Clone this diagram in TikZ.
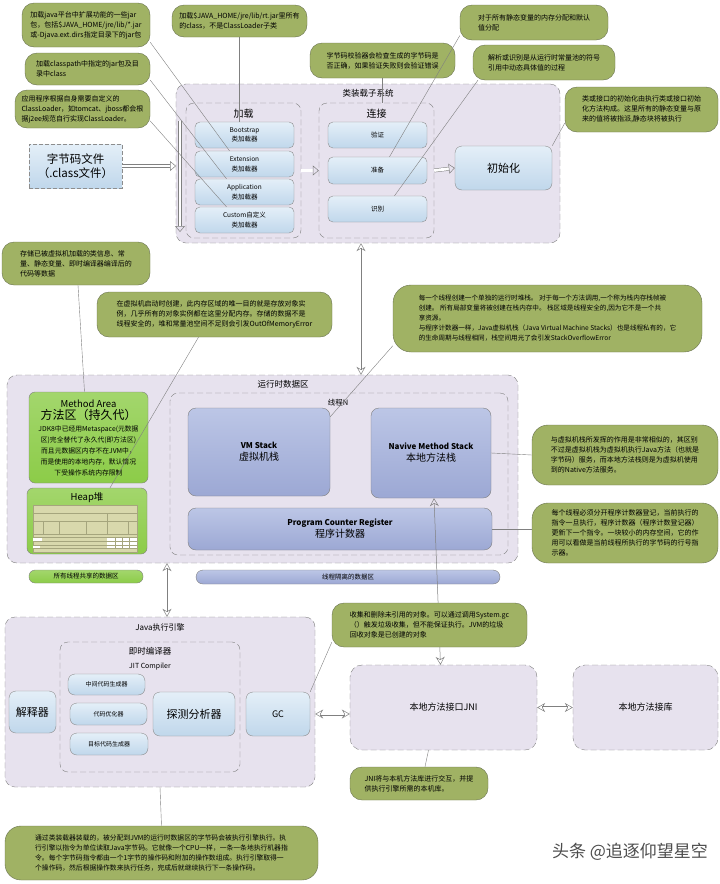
\documentclass[tikz,border=0pt]{standalone}
\usepackage{fontspec}
\setmainfont{Noto Sans CJK SC}
\usetikzlibrary{arrows.meta}
\definecolor{notegreen}{RGB}{160,178,100}
\definecolor{noteline}{RGB}{105,114,80}
\definecolor{lav}{RGB}{231,226,238}
\definecolor{edge}{RGB}{128,128,128}
\definecolor{boxtop}{RGB}{228,239,248}
\definecolor{boxbot}{RGB}{192,215,235}
\definecolor{areagreen}{RGB}{140,204,72}
\definecolor{peritop}{RGB}{188,198,230}
\definecolor{peribot}{RGB}{156,168,212}
\definecolor{heapfill}{RGB}{216,216,172}
\definecolor{heapline}{RGB}{165,165,125}

\begin{document}
\begin{tikzpicture}[x=1pt,y=-1pt,
	note/.style={draw=noteline,fill=notegreen,rounded corners=12pt,align=left,inner sep=0pt,font=\fontsize{7}{10}\selectfont},
	area/.style={draw=edge,fill=lav,dash pattern=on 6pt off 3pt,rounded corners=10pt},
	cell/.style={draw=edge!90,top color=boxtop,bottom color=boxbot,rounded corners=5pt,align=center,inner sep=0pt,font=\fontsize{6.5}{9.5}\selectfont},
	gbox/.style={draw=edge,top color=areagreen!80!white,bottom color=areagreen,rounded corners=6pt,align=center,inner sep=0pt},
	pbox/.style={draw=edge,top color=peritop,bottom color=peribot,rounded corners=8pt,align=center,inner sep=0pt},
	pointer/.style={draw=edge,line width=0.4pt},
	hollow/.style={draw=edge,double=white,double distance=2.8pt,line width=0.5pt,-{Triangle[open,length=6pt,width=10pt]}},
	biarrow/.style={draw=edge,line width=0.5pt,{Stealth[open,length=8pt,width=9pt]}-{Stealth[open,length=8pt,width=9pt]}}]
	\useasboundingbox (0,0) rectangle (720,884);

	% class loader subsystem
	\node[area,minimum width=384pt,minimum height=159pt] at (368,163.5) (loader) {};
	\node[font=\fontsize{8.5}{10}\selectfont] at (368,93) (loadertitle) {类装载子系统};
	\node[area,rounded corners=8pt,minimum width=115pt,minimum height=135pt] at (243.5,170.5) (loadbox) {};
	\node[font=\fontsize{10}{12}\selectfont] at (243.5,114) (loadtitle) {加载};
	\node[cell,minimum width=99pt,minimum height=26pt] at (244.5,135) (boot) {Bootstrap\\类加载器};
	\node[cell,minimum width=99pt,minimum height=26pt] at (244.5,164) (ext) {Extension\\类加载器};
	\node[cell,minimum width=99pt,minimum height=26pt] at (244.5,192) (appl) {Application\\类加载器};
	\node[cell,minimum width=99pt,minimum height=26pt] at (244.5,220) (cust) {Custom自定义\\类加载器};
	\node[area,rounded corners=8pt,minimum width=115pt,minimum height=135pt] at (376.5,170.5) (linkbox) {};
	\node[font=\fontsize{10}{12}\selectfont] at (376.5,114) (linktitle) {连接};
	\node[cell,minimum width=99pt,minimum height=26pt] at (377.5,135) (verify) {验证};
	\node[cell,minimum width=99pt,minimum height=27pt] at (377.5,170.5) (prep) {准备};
	\node[cell,minimum width=99pt,minimum height=26pt] at (377.5,209) (resolve) {识别};
	\node[cell,rounded corners=7pt,minimum width=97pt,minimum height=44pt,font=\fontsize{11}{13}\selectfont] at (503.5,168) (init) {初始化};
	\node[cell,rounded corners=0pt,dash pattern=on 4pt off 2pt,minimum width=93pt,minimum height=44pt,font=\fontsize{11.5}{14.5}\selectfont] at (75.5,166) (bytecode) {字节码文件\\（.class文件）};

	% runtime data area
	\node[area,minimum width=511pt,minimum height=188pt] at (262.5,469) (rt) {};
	\node[font=\fontsize{8.5}{10}\selectfont] at (283,384) (rttitle) {运行时数据区};
	\node[gbox,minimum width=119pt,minimum height=91pt,font=\fontsize{6.8}{11}\selectfont] at (88.5,437.5) (method) {{\fontsize{9.5}{12}\selectfont Method Area}\\[1pt]{\fontsize{12}{15}\selectfont 方法区（持久代）}\\[1pt]JDK8中已经用Metaspace(元数据\\区)完全替代了永久代(即方法区)\\而且元数据区内存不在JVM中，\\而是使用的本地内存，默认情况\\下受操作系统内存限制};
	\node[gbox,minimum width=120pt,minimum height=66pt] at (87,521) (heap) {};
	\node[font=\fontsize{9.5}{11}\selectfont] at (87,498) (heaptitle) {Heap堆};
	\fill[heapfill] (33,505) rectangle (137,552);
	\draw[heapline,line width=0.3pt] (33,505) rectangle (137,552)
		(33,513) -- (137,513) (33,521) -- (137,521) (33,534) -- (137,534)
		(107,513) -- (107,534) (43,521) -- (43,534) (59,521) -- (59,534)
		(86,521) -- (86,534) (128,521) -- (128,534);
	\fill[white] (107,537) rectangle (137,548);
	\fill[white] (33,537) rectangle (42,541);
	\fill[white] (33,545) rectangle (40,548);
	\draw[heapline,line width=0.3pt] (33,537) -- (137,537) (33,541) -- (137,541)
		(33,545) -- (137,545) (33,548) -- (137,548)
		(115,537) -- (115,548) (122,537) -- (122,548) (129,537) -- (129,548);
	\node[area,rounded corners=8pt,minimum width=338pt,minimum height=162pt] at (339,474) (thread) {};
	\node[font=\fontsize{7.5}{9}\selectfont] at (338,403) (threadtitle) {线程N};
	\node[pbox,minimum width=142pt,minimum height=88pt] at (259,452) (vmstack) {{\fontsize{8}{12}\selectfont\bfseries VM Stack}\\{\fontsize{10}{13}\selectfont 虚拟机栈}};
	\node[pbox,minimum width=120pt,minimum height=90pt] at (431,453) (native) {{\fontsize{8}{12}\selectfont\bfseries Navive Method Stack}\\{\fontsize{10}{13}\selectfont 本地方法栈}};
	\node[pbox,minimum width=304pt,minimum height=42pt] at (340,529) (pc) {{\fontsize{8}{12}\selectfont\bfseries Program Counter Register}\\{\fontsize{10}{13}\selectfont 程序计数器}};
	\node[gbox,rounded corners=6pt,minimum width=114pt,minimum height=13pt,font=\fontsize{6.5}{8}\selectfont] at (86,576.5) (shared) {所有线程共享的数据区};
	\node[pbox,rounded corners=7pt,minimum width=304pt,minimum height=14pt,font=\fontsize{6.5}{8}\selectfont] at (348,577) (isolated) {线程隔离的数据区};

	% execution engine
	\node[area,minimum width=310pt,minimum height=170pt] at (160,702) (eng) {};
	\node[font=\fontsize{8}{10}\selectfont] at (160,627) (engtitle) {Java执行引擎};
	\node[area,rounded corners=8pt,minimum width=180pt,minimum height=130pt] at (150,707) (jit) {};
	\node[align=center,font=\fontsize{8.5}{14}\selectfont] at (150,659) (jittitle) {即时编译器\\{\fontsize{7}{9}\selectfont JIT Compiler}};
	\node[cell,rounded corners=7pt,minimum width=77pt,minimum height=21pt,font=\fontsize{6}{8}\selectfont] at (106.5,684.5) (midcode) {中间代码生成器};
	\node[cell,rounded corners=7pt,minimum width=77pt,minimum height=22pt,font=\fontsize{6}{8}\selectfont] at (108.5,714) (optim) {代码优化器};
	\node[cell,rounded corners=7pt,minimum width=78pt,minimum height=22pt,font=\fontsize{6}{8}\selectfont] at (109,744) (target) {目标代码生成器};
	\node[cell,rounded corners=7pt,minimum width=82pt,minimum height=44pt,font=\fontsize{11}{13}\selectfont] at (194,714) (probe) {探测分析器};
	\node[cell,rounded corners=7pt,minimum width=47pt,minimum height=42pt,font=\fontsize{11}{13}\selectfont] at (32.5,712) (interp) {解释器};
	\node[cell,rounded corners=7pt,minimum width=64pt,minimum height=44pt,font=\fontsize{9}{11}\selectfont] at (278,714) (gc) {GC};
	\node[area,rounded corners=12pt,minimum width=187pt,minimum height=85pt,font=\fontsize{9}{11}\selectfont] at (443.5,707.5) (jni) {本地方法接口JNI};
	\node[area,rounded corners=12pt,minimum width=145pt,minimum height=85pt,font=\fontsize{9}{11}\selectfont] at (645.5,707.5) (lib) {本地方法接库};

	% arrows between the parts
	\coordinate (feedtop) at (180,121);
	\coordinate (feedbot) at (180,232);
	\draw[hollow] (feedtop) -- (feedbot);
	\draw[hollow] (bytecode.east) -- ([xshift=-4pt]bytecode.east -| feedtop);
	\draw[hollow] (loadbox.east) -- (linkbox.west);
	\draw[hollow] (linkbox.east) -- (init.west);
	\draw[biarrow] ([xshift=-7pt]loader.south) -- ([xshift=-7pt]loader.south |- rt.north);
	\draw[biarrow] ([xshift=7pt]eng.north |- rt.south) -- ([xshift=7pt]eng.north);
	\draw[biarrow] ([xshift=3pt]native.south) -- ([xshift=-3pt]jni.north);
	\draw[biarrow,double=white,double distance=2pt] (gc.east -| eng.east) -- (gc.east -| jni.west);
	\draw[biarrow,double=white,double distance=2pt] (jni.east) -- (lib.west);

	% notes
	\node[note,minimum width=128pt,minimum height=44pt] at (86,25) (cext) {加载java平台中扩展功能的一些jar\\包，包括\$JAVA\_HOME/jre/lib/*.jar\\或-Djava.ext.dirs指定目录下的jar包};
	\node[note,minimum width=125pt,minimum height=32pt] at (87.5,69) (capp) {加载classpath中指定的jar包及目\\录中class};
	\node[note,minimum width=135pt,minimum height=38pt] at (82.5,109) (ccust) {应用程序根据自身需要自定义的\\ClassLoader，如tomcat、jboss都会根\\据j2ee规范自行实现ClassLoader。};
	\node[note,minimum width=135pt,minimum height=32pt] at (239.5,21) (cboot) {加载\$JAVA\_HOME/jre/lib/rt.jar里所有\\的class，不是ClassLoader子类};
	\node[note,minimum width=145pt,minimum height=35pt] at (382.5,60.5) (cverify) {字节码校验器会检查生成的字节码是\\否正确，如果验证失败则会验证错误};
	\node[note,minimum width=148pt,minimum height=35pt] at (534,22.5) (cprep) {对于所有静态变量的内存分配和默认\\值分配};
	\node[note,minimum width=142pt,minimum height=35pt] at (544,62.5) (cres) {解析或识别是从运行时常量池的符号\\引用中动态具体值的过程};
	\node[note,minimum width=153pt,minimum height=45pt] at (641.5,109.5) (cinit) {类或接口的初始化由执行类或接口初始\\化方法构成。这里所有的静态变量与原\\来的值将被指派,静态块将被执行};
	\node[note,minimum width=148pt,minimum height=43pt] at (76,263.5) (cmethod) {存储已被虚拟机加载的类信息、常\\量、静态变量、即时编译器编译后的\\代码等数据};
	\node[note,minimum width=235pt,minimum height=45pt] at (214.5,314.5) (cheap) {在虚拟机启动时创建，此内存区域的唯一目的就是存放对象实\\例，几乎所有的对象实例都在这里分配内存。存储的数据不是\\线程安全的，堆和常量池空间不足则会引发OutOfMemoryError};
	\node[note,rounded corners=18pt,minimum width=309pt,minimum height=67pt,font=\fontsize{6.6}{10}\selectfont] at (547.5,318.5) (cstack) {每一个线程创建一个单独的运行时堆栈。 对于每一个方法调用,一个称为栈内存栈帧被\\创建。 所有局部变量将被创建在栈内存中。 栈区域是线程安全的,因为它不是一个共\\享资源。\\与程序计数器一样，Java虚拟机栈（Java Virtual Machine Stacks）也是线程私有的，它\\的生命周期与线程相同，栈空间用光了会引发StackOverflowError};
	\node[note,rounded corners=16pt,minimum width=186pt,minimum height=60pt] at (625,455) (cnative) {与虚拟机栈所发挥的作用是非常相似的，其区别\\不过是虚拟机栈为虚拟机执行Java方法（也就是\\字节码）服务，而本地方法栈则是为虚拟机使用\\到的Native方法服务。};
	\node[note,rounded corners=16pt,minimum width=186pt,minimum height=60pt] at (625,533) (cpc) {每个线程必须分开程序计数器登记，当前执行的\\指令一旦执行，程序计数器（程序计数登记器）\\更新下一个指令。一块较小的内存空间，它的作\\用可以看做是当前线程所执行的字节码的行号指\\示器。};
	\node[note,minimum width=195pt,minimum height=44pt] at (429.5,625) (cgc) {收集和删除未引用的对象。可以通过调用System.gc\\（）触发垃圾收集，但不能保证执行。JVM的垃圾\\回收对象是已创建的对象};
	\node[note,minimum width=138pt,minimum height=33pt] at (419,783.5) (cjni) {JNI将与本机方法库进行交互，并提\\供执行引擎所需的本机库。};
	\node[note,rounded corners=16pt,minimum width=313pt,minimum height=54pt,font=\fontsize{6.8}{10}\selectfont] at (161.5,853) (cexec) {通过类装载器装载的，被分配到JVM的运行时数据区的字节码会被执行引擎执行。执\\行引擎以指令为单位读取Java字节码。它就像一个CPU一样，一条一条地执行机器指\\令。每个字节码指令都由一个1字节的操作码和附加的操作数组成。执行引擎取得一\\个操作码，然后根据操作数来执行任务，完成后就继续执行下一条操作码。};

	% pointers from the notes
	\draw[pointer] (cext.345) -- ([xshift=-15pt]ext.north);
	\draw[pointer] (capp.350) -- ([xshift=-18pt]appl.north);
	\draw[pointer] (ccust.350) -- ([xshift=-18pt]cust.north);
	\draw[pointer] (cboot.south) -- (cboot.south |- boot.north);
	\draw[pointer] (cverify.south) -- (cverify.south |- linkbox.north);
	\draw[pointer] (cprep.190) -- ([xshift=12pt]prep.north);
	\draw[pointer] (cres.195) -- ([xshift=17pt]resolve.north);
	\draw[pointer] (cinit.190) -- (init.north east);
	\draw[pointer] ([xshift=2pt]cmethod.south) -- ([xshift=-4pt]method.north);
	\draw[pointer] ([xshift=-16pt]cheap.south) -- ([xshift=23pt]heap.north);
	\draw[pointer] (cstack.190) -- ([yshift=-9pt]vmstack.north east);
	\draw[pointer] (native.east) -- (cnative.west);
	\draw[pointer] (pc.east) -- (pc.east -| cpc.west);
	\draw[pointer] (gc.north east) -- (cgc.190);
	\draw[pointer] ([xshift=-15pt]jni.south) -- ([xshift=6pt]cjni.north);
	\draw[pointer] (eng.south) -- (cexec.north);

	\node[font=\fontsize{17}{19}\selectfont,text=black!70] at (630,852) (mark) {头条 @追逐仰望星空};
\end{tikzpicture}
\end{document}
